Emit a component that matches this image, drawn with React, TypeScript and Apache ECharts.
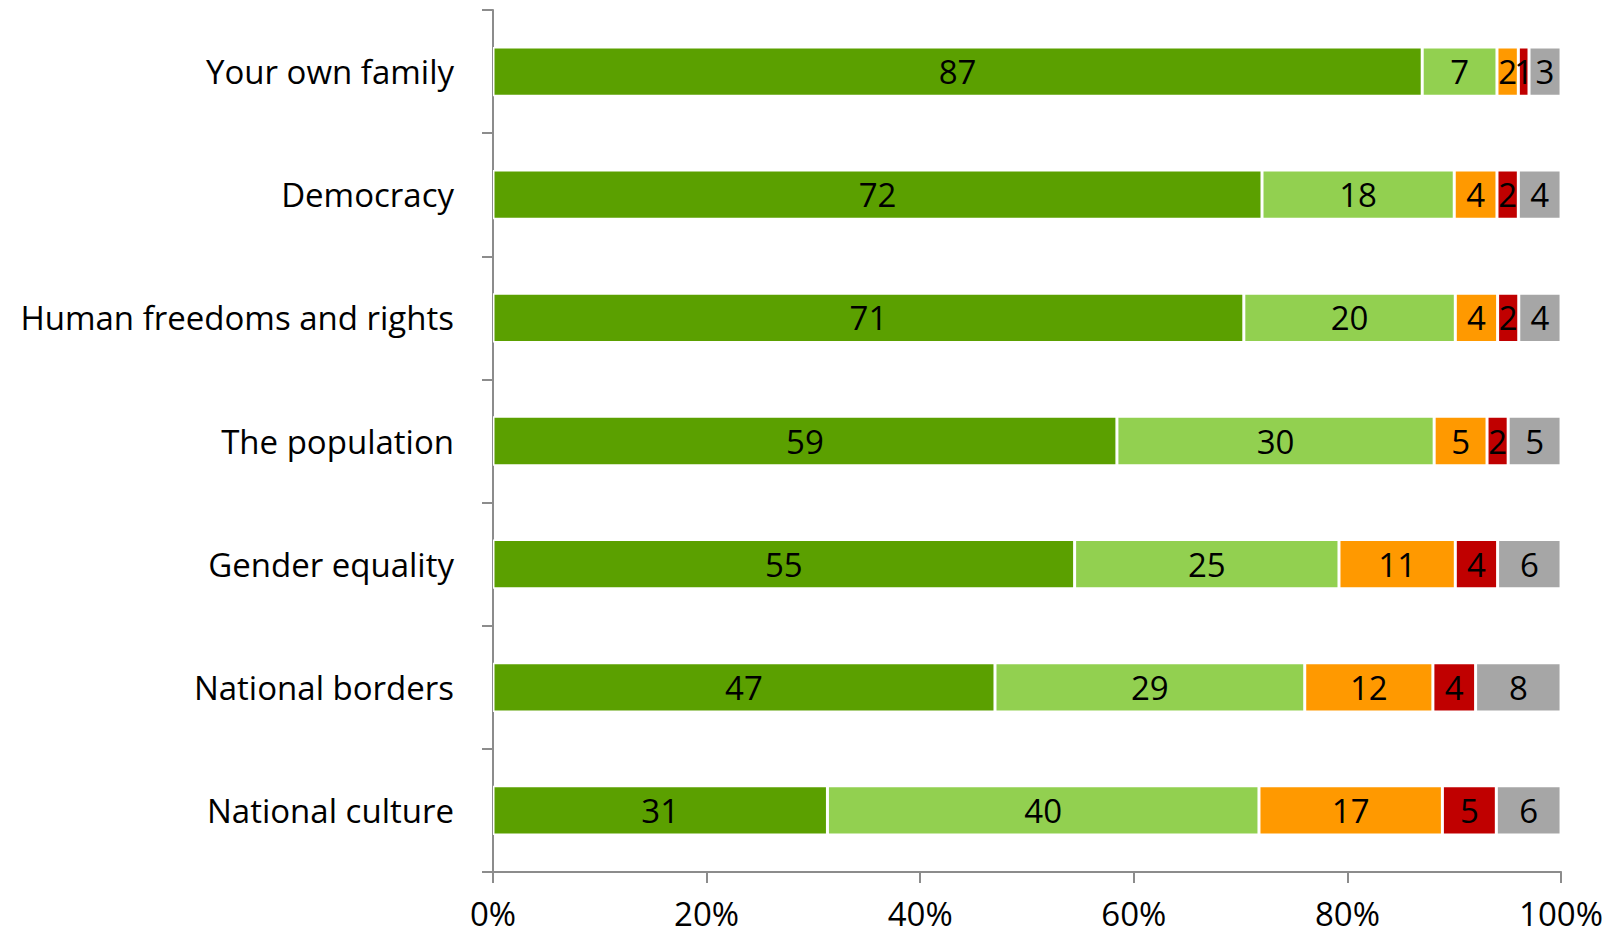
import React, { useEffect, useRef } from "react";
import * as echarts from "echarts";

const categories = [
  "Your own family",
  "Democracy",
  "Human freedoms and rights",
  "The population",
  "Gender equality",
  "National borders",
  "National culture",
];

const seriesNames = ["s1", "s2", "s3", "s4", "s5"];
const s1 = [87, 72, 71, 59, 55, 47, 31];
const s2 = [7, 18, 20, 30, 25, 29, 40];
const s3 = [2, 4, 4, 5, 11, 12, 17];
const s4 = [1, 2, 2, 2, 4, 4, 5];
const s5 = [3, 4, 4, 5, 6, 8, 6];
const colors = ["#5BA000", "#92D050", "#FF9900", "#C00000", "#A6A6A6"];
const xTicks = [0, 20, 40, 60, 80, 100];

const FONT = "'Open Sans', sans-serif";

export default function App() {
  const ref = useRef<HTMLDivElement>(null);
  useEffect(() => {
    if (!ref.current) return;
    const chart = echarts.init(ref.current, undefined, { renderer: "svg" });
    const all = [s1, s2, s3, s4, s5];
    const sums = categories.map((_, i) => all.reduce((a, s) => a + s[i], 0));
    const series = all.map((vals, k) => ({
      name: seriesNames[k],
      type: "bar",
      stack: "total",
      barWidth: "40%",
      data: vals.map((v, i) => ({ value: (v / sums[i]) * 100, raw: v })),
      itemStyle: { color: colors[k], borderColor: "#ffffff", borderWidth: 1.5 },
      label: {
        show: true,
        position: "inside",
        color: "#000",
        fontFamily: FONT,
        fontSize: 33,
        formatter: (p: any) => String(p.data.raw),
      },
    }));
    chart.setOption({
      animation: false,
      grid: { left: 485, right: 44, top: 2, bottom: 66 },
      xAxis: {
        type: "value",
        min: xTicks[0],
        max: xTicks[xTicks.length - 1],
        interval: 20,
        splitLine: { show: false },
        axisLine: { show: true, lineStyle: { color: "#8C8C8C", width: 2 } },
        axisTick: { show: true, length: 11, lineStyle: { color: "#8C8C8C", width: 2 } },
        axisLabel: {
          formatter: "{value}%",
          color: "#000",
          fontFamily: FONT,
          fontSize: 33,
          lineHeight: 33,
          margin: 25,
        },
      },
      yAxis: {
        type: "category",
        data: categories,
        inverse: true,
        axisLine: { show: true, lineStyle: { color: "#8C8C8C", width: 2 } },
        axisTick: { show: true, length: 11, lineStyle: { color: "#8C8C8C", width: 2 } },
        axisLabel: {
          color: "#000",
          fontFamily: FONT,
          fontSize: 33,
          margin: 39,
        },
      },
      series,
    });
    return () => chart.dispose();
  }, []);
  return <div ref={ref} style={{ width: 1598, height: 930 }} />;
}
